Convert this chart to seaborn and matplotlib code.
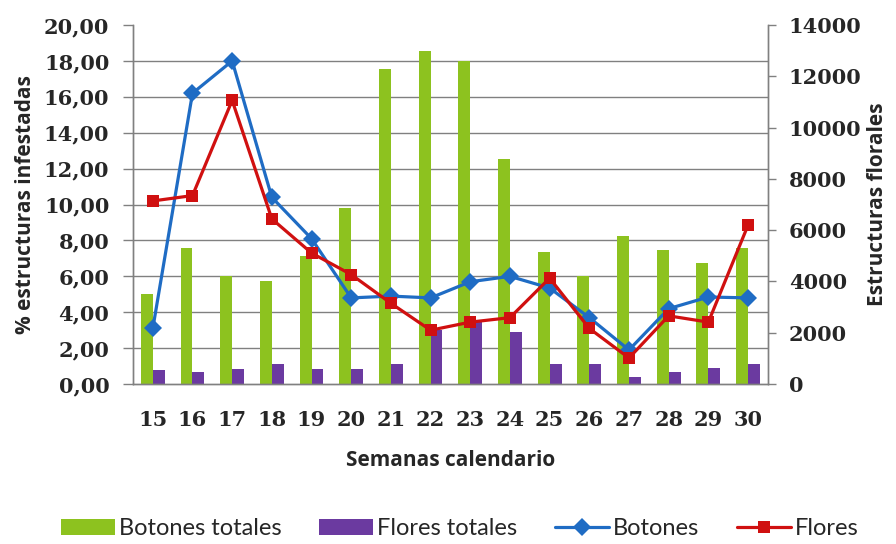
import numpy as np
import pandas as pd
import matplotlib.pyplot as plt
import seaborn as sns
from matplotlib.ticker import MultipleLocator, FixedLocator

# --- Data ---
semanas = ["15", "16", "17", "18", "19", "20", "21", "22",
           "23", "24", "25", "26", "27", "28", "29", "30"]

botones_totales = [3500, 5300, 4200, 4000, 5000, 6850, 12280, 13000,
                   12600, 8780, 5150, 4200, 5770, 5230, 4720, 5300]
flores_totales = [550, 470, 580, 780, 580, 580, 780, 2100,
                  2500, 2030, 780, 780, 270, 470, 620, 780]

pct_botones = [3.1, 16.2, 18.0, 10.4, 8.1, 4.8, 4.9, 4.8,
               5.7, 6.0, 5.35, 3.7, 1.9, 4.2, 4.85, 4.8]
pct_flores = [10.2, 10.5, 15.8, 9.2, 7.3, 6.1, 4.5, 3.0,
              3.45, 3.7, 5.9, 3.1, 1.45, 3.8, 3.45, 8.85]

# --- Styling ---
GREEN = "#8dc21f"
PURPLE = "#6b3aa0"
BLUE = "#1f6cc4"
RED = "#d01010"
GRID = "#808080"

sns.set_theme(style="white")
plt.rcParams['font.family'] = ['Open Sans', 'DejaVu Sans']
tick_font = dict(family='DejaVu Serif', weight='bold', size=15)
label_kw = dict(fontsize=15, fontweight='bold')

bars_df = pd.DataFrame({
    "semana": semanas * 2,
    "serie": ["Botones totales"] * len(semanas) + ["Flores totales"] * len(semanas),
    "valor": botones_totales + flores_totales,
})
lines_df = pd.DataFrame({
    "semana": semanas * 2,
    "serie": ["Botones"] * len(semanas) + ["Flores"] * len(semanas),
    "valor": pct_botones + pct_flores,
})

fig, ax = plt.subplots(figsize=(8.96, 5.44), dpi=100)
fig.subplots_adjust(left=0.1484, right=0.857, top=0.954, bottom=0.294)
axb = ax.twinx()

# lines above bars
ax.set_zorder(axb.get_zorder() + 1)
ax.patch.set_visible(False)

# bars on the secondary (right) axis
sns.barplot(data=bars_df, x="semana", y="valor", hue="serie",
            palette=[GREEN, PURPLE], width=0.6, gap=0, saturation=1,
            linewidth=0, ax=axb, order=semanas)
axb.set_ylim(0, 14000)
axb.yaxis.set_major_locator(MultipleLocator(2000))
axb.yaxis.set_minor_locator(MultipleLocator(1400))
axb.grid(which='minor', axis='y', color=GRID, linewidth=1.0)
axb.set_axisbelow(True)
axb.tick_params(axis='y', which='major', direction='out', length=6, width=1,
                color=GRID, pad=9)
axb.tick_params(axis='y', which='minor', length=0)
for lab in axb.get_yticklabels():
    lab.set_fontproperties(tick_font)
axb.set_ylabel("Estructuras florales", labelpad=4, **label_kw)

# lines on the primary (left) axis
sns.pointplot(data=lines_df, x="semana", y="valor", hue="serie",
              palette=[BLUE, RED], markers=["D", "s"], linestyles=["-", "-"],
              order=semanas, ax=ax, markersize=9, linewidth=2.3,
              markeredgewidth=0)
for line, ms in zip(ax.lines, [9, 12.5]):
    line.set_markersize(ms)
ax.set_ylim(0, 20)
ax.yaxis.set_major_locator(MultipleLocator(2))
ax.yaxis.set_major_formatter(lambda v, p: f"{v:.2f}".replace(".", ","))
ax.tick_params(axis='y', direction='out', length=7, width=1, color=GRID, pad=10)
for lab in ax.get_yticklabels():
    lab.set_fontproperties(tick_font)
ax.set_ylabel("% estructuras infestadas", labelpad=6, **label_kw)

# x axis: labels at centres, tick marks between categories
ax.set_xlim(-0.5, len(semanas) - 0.5)
ax.xaxis.set_minor_locator(FixedLocator(np.arange(-0.5, len(semanas), 1)))
ax.tick_params(axis='x', which='major', length=0, pad=19)
ax.tick_params(axis='x', which='minor', direction='out', length=6, width=1,
               color=GRID)
for lab in ax.get_xticklabels():
    lab.set_fontproperties(tick_font)
ax.set_xlabel("Semanas calendario", labelpad=14, **label_kw)
axb.set_xlabel("")

for a in (ax, axb):
    for side in ("left", "right", "bottom"):
        a.spines[side].set_color(GRID)
        a.spines[side].set_linewidth(1.0)
    a.spines["top"].set_visible(False)

# combined legend under the plot
hb, lb = axb.get_legend_handles_labels()
hl, ll = ax.get_legend_handles_labels()
axb.get_legend().remove()
ax.get_legend().remove()
fig.legend(hb + hl, lb + ll, loc='lower center', ncol=4, frameon=False,
           bbox_to_anchor=(0.513, -0.03), handlelength=2.3, columnspacing=1.6,
           handletextpad=0.15, prop=dict(family=['Lato', 'DejaVu Sans'], size=17))

fig.savefig("out.png", dpi=100)
